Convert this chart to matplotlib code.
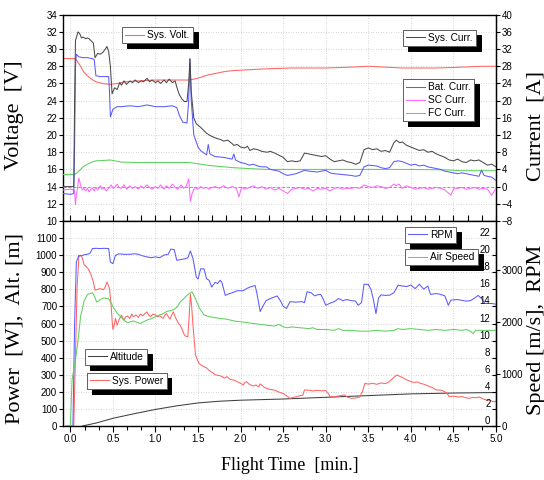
import numpy as np
import matplotlib
matplotlib.use("Agg")
import matplotlib.pyplot as plt
from matplotlib import font_manager
from matplotlib.ticker import MultipleLocator, FixedLocator

# ---------------- data ----------------
sys_volt_pts = [(-0.09, 28.9), (0.05, 28.9), (0.08, 28.6), (0.12, 28.0), (0.16, 27.3), (0.2, 26.9),
                (0.25, 26.5), (0.3, 26.2), (0.4, 25.95), (0.47, 25.9), (0.55, 26.0), (0.65, 26.2),
                (0.8, 26.3), (1.0, 26.4), (1.2, 26.4), (1.38, 26.4), (1.45, 26.5), (1.53, 26.7),
                (1.62, 27.0), (1.72, 27.2), (1.82, 27.4), (1.92, 27.5), (2.1, 27.6), (2.3, 27.7),
                (2.6, 27.8), (3.0, 27.8), (3.3, 27.9), (3.5, 28.0), (3.7, 27.9), (3.9, 27.8),
                (4.3, 27.8), (4.6, 27.9), (4.85, 28.0), (5.0, 28.0)]

sys_curr_pts = [(-0.09, 0.0), (0.04, 0.0), (0.05, 20), (0.06, 34), (0.09, 36), (0.11, 35.6), (0.13, 34.6),
                (0.15, 34.8), (0.18, 34.4), (0.2, 34.6), (0.22, 34.4), (0.25, 33.8), (0.27, 33.4),
                (0.29, 30.0), (0.32, 31.0), (0.35, 30.8), (0.38, 31.2), (0.41, 32.0), (0.43, 32.6),
                (0.45, 31.4), (0.47, 28.0), (0.49, 21.6), (0.52, 23.0), (0.55, 22.6), (0.58, 24.2),
                (0.6, 23.6), (0.63, 24.6), (0.66, 23.8), (0.7, 24.6), (0.73, 24.2), (0.76, 24.8),
                (0.8, 24.2), (0.83, 24.6), (0.86, 24.4), (0.9, 25.2), (0.93, 24.4), (0.96, 24.8),
                (1.0, 24.2), (1.03, 24.6), (1.06, 24.0), (1.1, 24.8), (1.13, 24.2), (1.16, 25.0),
                (1.2, 24.2), (1.23, 24.6), (1.25, 23.2), (1.28, 21.4), (1.31, 20.4), (1.34, 19.8),
                (1.37, 19.8), (1.39, 24.0), (1.405, 29.8), (1.42, 22.0), (1.45, 16.0), (1.48, 14.6),
                (1.53, 13.8), (1.57, 13.0), (1.6, 12.4), (1.65, 11.8), (1.72, 11.2), (1.76, 11.0),
                (1.8, 10.6), (1.85, 10.8), (1.9, 10.0), (1.92, 9.6), (1.96, 9.8), (2.0, 9.2),
                (2.05, 9.0), (2.08, 9.4), (2.11, 8.4), (2.15, 8.8), (2.2, 8.6), (2.25, 8.2),
                (2.31, 8.0), (2.35, 8.2), (2.4, 7.8), (2.44, 7.4), (2.5, 6.8), (2.55, 5.8),
                (2.6, 6.0), (2.65, 5.8), (2.7, 6.0), (2.75, 7.8), (2.8, 7.6), (2.85, 7.4),
                (2.9, 7.2), (2.95, 7.0), (3.0, 7.2), (3.05, 6.4), (3.1, 5.8), (3.15, 6.0),
                (3.2, 6.2), (3.25, 5.8), (3.3, 5.6), (3.35, 5.2), (3.4, 5.6), (3.45, 8.6),
                (3.5, 9.0), (3.55, 8.6), (3.6, 8.8), (3.65, 8.2), (3.7, 8.4), (3.75, 8.0),
                (3.8, 10.2), (3.83, 10.8), (3.87, 10.2), (3.9, 10.4), (3.95, 9.6), (4.0, 9.2),
                (4.05, 8.8), (4.1, 8.4), (4.15, 8.6), (4.2, 8.0), (4.25, 8.2), (4.3, 7.6),
                (4.35, 7.2), (4.4, 6.8), (4.45, 6.2), (4.5, 6.0), (4.55, 6.4), (4.6, 5.8),
                (4.65, 5.6), (4.7, 6.2), (4.75, 6.0), (4.8, 6.2), (4.85, 5.6), (4.9, 5.0),
                (4.95, 5.2), (5.0, 4.6)]

bat_curr_pts = [(-0.09, -1.6), (0.0, -1.8), (0.04, -1.6), (0.05, 10), (0.06, 28), (0.07, 30.8),
                (0.1, 30.2), (0.15, 30.0), (0.2, 30.0), (0.25, 29.8), (0.28, 29.6), (0.3, 25.8),
                (0.35, 25.6), (0.4, 25.6), (0.45, 25.6), (0.46, 22.0), (0.47, 16.2), (0.5, 18.0),
                (0.55, 18.6), (0.6, 18.6), (0.7, 18.8), (0.8, 18.6), (0.9, 19.0), (0.95, 18.8),
                (1.0, 18.6), (1.1, 18.6), (1.2, 18.8), (1.25, 18.4), (1.28, 16.6), (1.32, 15.0),
                (1.37, 14.8), (1.39, 20.0), (1.405, 29.6), (1.42, 20.0), (1.45, 12.0), (1.5, 9.2),
                (1.53, 8.4), (1.57, 7.8), (1.6, 7.4), (1.62, 9.8), (1.64, 7.6), (1.7, 7.0),
                (1.8, 6.8), (1.85, 6.6), (1.9, 6.4), (1.92, 7.6), (1.94, 6.2), (2.0, 5.6),
                (2.05, 5.4), (2.1, 5.0), (2.15, 5.2), (2.2, 4.8), (2.25, 4.6), (2.3, 4.6),
                (2.35, 4.0), (2.4, 3.8), (2.45, 3.6), (2.5, 3.0), (2.55, 2.6), (2.6, 2.8),
                (2.65, 3.0), (2.7, 3.4), (2.75, 3.8), (2.8, 3.6), (2.9, 3.4), (3.0, 3.8),
                (3.05, 3.2), (3.1, 3.0), (3.2, 2.8), (3.3, 2.6), (3.35, 2.4), (3.4, 2.6),
                (3.45, 4.6), (3.5, 5.0), (3.6, 4.8), (3.65, 4.4), (3.7, 4.2), (3.75, 4.4),
                (3.8, 5.8), (3.85, 6.0), (3.9, 5.8), (3.95, 5.4), (4.0, 5.0), (4.05, 5.2),
                (4.1, 4.8), (4.15, 5.0), (4.2, 4.6), (4.3, 4.2), (4.35, 4.0), (4.4, 3.6),
                (4.45, 3.4), (4.5, 3.2), (4.55, 3.0), (4.6, 3.2), (4.65, 3.0), (4.7, 2.8),
                (4.75, 2.6), (4.8, 2.4), (4.83, 3.8), (4.86, 2.6), (4.9, 2.4), (4.95, 2.2),
                (5.0, 1.4)]

sc_curr_pts = [(-0.09, -0.8), (0.0, -0.6), (0.04, -0.8), (0.05, -1.2), (0.06, -4.2), (0.07, -2.0),
               (0.08, -0.8), (0.1, 2.0), (0.12, 0.4), (0.14, -0.8), (0.16, -0.4), (0.18, -1.0),
               (0.2, -0.4), (0.22, -1.2), (0.24, -0.6), (0.26, -0.4), (0.28, -1.0), (0.3, -0.2),
               (0.32, -0.8), (0.35, 0.2), (0.37, -0.6), (0.4, -0.4), (0.42, -1.0), (0.45, -0.4),
               (0.48, 0.4), (0.5, -0.4), (0.52, -0.2), (0.55, 0.6), (0.57, -0.2), (0.6, -0.4),
               (0.63, 0.4), (0.66, -0.6), (0.7, 0.2), (0.73, -0.4), (0.76, 0.0), (0.8, -0.6),
               (0.83, 0.2), (0.86, -0.4), (0.9, 0.4), (0.93, -0.2), (0.96, -0.6), (1.0, 0.0),
               (1.03, -0.4), (1.06, 0.4), (1.1, -0.6), (1.13, 0.2), (1.16, -0.4), (1.2, 0.6),
               (1.23, -0.2), (1.26, -0.6), (1.3, 0.4), (1.33, -0.4), (1.36, 0.0), (1.39, 1.8),
               (1.41, -3.4), (1.43, -1.6), (1.46, -0.2), (1.5, -0.6), (1.53, 0.0), (1.56, -0.4),
               (1.6, -0.2), (1.63, -0.6), (1.66, -0.2), (1.7, 0.0), (1.75, -0.4), (1.8, 0.2),
               (1.85, -0.4), (1.9, 0.0), (1.95, -0.4), (1.98, -2.4), (2.01, -0.2), (2.05, -0.6),
               (2.1, -0.2), (2.15, 0.2), (2.2, -0.4), (2.25, 0.0), (2.3, -0.6), (2.35, -0.2),
               (2.4, -0.8), (2.45, -0.4), (2.5, -1.0), (2.55, -1.6), (2.6, -0.6), (2.65, -0.4),
               (2.7, -0.2), (2.75, -0.6), (2.8, -0.4), (2.85, -1.0), (2.9, -0.4), (2.95, -0.6),
               (3.0, -0.4), (3.05, -1.0), (3.1, -0.4), (3.15, -0.2), (3.2, -0.6), (3.25, -0.4),
               (3.3, -0.4), (3.35, -0.2), (3.4, -0.4), (3.45, 0.4), (3.5, 0.0), (3.55, -0.2),
               (3.6, 0.2), (3.65, 0.0), (3.7, -0.4), (3.75, -0.2), (3.8, 0.6), (3.83, 0.2),
               (3.86, 0.6), (3.9, -0.4), (3.95, 0.2), (4.0, -0.2), (4.05, -0.6), (4.1, -0.4),
               (4.15, -0.2), (4.2, -0.6), (4.25, -0.4), (4.3, -0.2), (4.35, -0.4), (4.4, -0.8),
               (4.47, -2.0), (4.5, -0.6), (4.55, -0.4), (4.6, -0.2), (4.65, -0.6), (4.7, -0.4),
               (4.75, -0.2), (4.8, -0.6), (4.85, -0.4), (4.9, -0.6), (4.95, -2.0), (5.0, -0.4)]

fc_curr_pts = [(-0.09, 2.8), (0.05, 2.8), (0.1, 3.6), (0.15, 4.6), (0.2, 5.2), (0.25, 5.7), (0.3, 6.0),
               (0.4, 6.1), (0.47, 6.2), (0.52, 6.0), (0.6, 5.7), (0.8, 5.6), (1.0, 5.6), (1.2, 5.6),
               (1.4, 5.6), (1.5, 5.3), (1.6, 5.0), (1.75, 4.7), (1.92, 4.4), (2.1, 4.2), (2.3, 4.0),
               (2.6, 4.0), (3.0, 4.0), (3.5, 4.0), (4.0, 4.0), (4.4, 3.9), (4.6, 3.7), (5.0, 3.7)]

sys_power_pts = [(-0.05, 0), (0.04, 0), (0.06, 400), (0.08, 820), (0.1, 990), (0.12, 1000), (0.14, 985),
                 (0.16, 945), (0.19, 930), (0.21, 920), (0.24, 890), (0.27, 843), (0.29, 795),
                 (0.32, 800), (0.35, 804), (0.39, 798), (0.41, 815), (0.43, 843), (0.45, 820),
                 (0.46, 804), (0.48, 700), (0.49, 620), (0.5, 565), (0.52, 600), (0.53, 630),
                 (0.55, 590), (0.57, 620), (0.6, 649), (0.63, 620), (0.65, 640), (0.67, 643),
                 (0.7, 630), (0.72, 655), (0.74, 640), (0.77, 650), (0.8, 635), (0.82, 655),
                 (0.85, 645), (0.88, 660), (0.9, 668), (0.92, 650), (0.94, 640), (0.97, 655),
                 (1.0, 650), (1.02, 639), (1.05, 645), (1.09, 630), (1.11, 650), (1.13, 658),
                 (1.15, 640), (1.17, 625), (1.19, 650), (1.21, 668), (1.23, 640), (1.25, 620),
                 (1.27, 600), (1.29, 590), (1.31, 570), (1.34, 532), (1.36, 525), (1.38, 522),
                 (1.395, 640), (1.41, 771), (1.425, 700), (1.44, 590), (1.47, 415), (1.49, 390),
                 (1.51, 366), (1.54, 355), (1.57, 347), (1.6, 340), (1.62, 330), (1.65, 318),
                 (1.68, 310), (1.7, 300), (1.72, 298), (1.75, 295), (1.78, 290), (1.81, 280),
                 (1.84, 289), (1.87, 275), (1.9, 270), (1.92, 269), (1.95, 262), (1.97, 258),
                 (2.0, 250), (2.03, 240), (2.05, 255), (2.07, 259), (2.1, 245), (2.12, 240),
                 (2.15, 234), (2.18, 240), (2.21, 230), (2.23, 246), (2.26, 235), (2.28, 225),
                 (2.31, 220), (2.34, 215), (2.37, 212), (2.4, 210), (2.44, 201), (2.47, 195),
                 (2.5, 190), (2.53, 180), (2.56, 170), (2.58, 162), (2.62, 168), (2.66, 172),
                 (2.7, 178), (2.73, 180), (2.75, 211), (2.8, 210), (2.85, 205), (2.9, 208),
                 (2.95, 206), (3.0, 208), (3.03, 190), (3.05, 172), (3.1, 170), (3.13, 174),
                 (3.18, 178), (3.22, 182), (3.25, 170), (3.3, 162), (3.35, 164), (3.4, 170),
                 (3.43, 200), (3.46, 250), (3.5, 245), (3.55, 250), (3.6, 244), (3.65, 252),
                 (3.7, 248), (3.74, 258), (3.78, 275), (3.81, 290), (3.84, 299), (3.87, 290),
                 (3.9, 285), (3.93, 275), (3.96, 268), (4.0, 260), (4.04, 255), (4.08, 258),
                 (4.11, 250), (4.15, 245), (4.2, 235), (4.25, 225), (4.3, 211), (4.35, 210),
                 (4.38, 205), (4.42, 195), (4.45, 172), (4.5, 175), (4.55, 170), (4.6, 172),
                 (4.65, 165), (4.69, 162), (4.73, 168), (4.77, 165), (4.8, 170), (4.84, 160),
                 (4.89, 152), (4.93, 150), (4.97, 142), (5.0, 145)]

altitude_pts = [(0.14, 0), (0.3, 17), (0.5, 45), (0.75, 72), (1.0, 97), (1.25, 118), (1.5, 135),
                (1.75, 145), (2.0, 151), (2.5, 158), (3.0, 168), (3.5, 178), (4.0, 188),
                (4.5, 193), (5.0, 196)]

rpm_pts = [(-0.05, 0), (0.03, 0), (0.05, 1970), (0.07, 3150), (0.1, 3280), (0.13, 3270), (0.16, 3290),
           (0.2, 3300), (0.23, 3320), (0.26, 3410), (0.3, 3415), (0.35, 3410), (0.4, 3415),
           (0.45, 3410), (0.47, 3150), (0.5, 3120), (0.53, 3280), (0.57, 3310), (0.62, 3300),
           (0.7, 3300), (0.75, 3310), (0.8, 3300), (0.85, 3270), (0.9, 3250), (0.95, 3235),
           (1.0, 3250), (1.05, 3235), (1.1, 3285), (1.15, 3300), (1.18, 3400), (1.22, 3390),
           (1.25, 3185), (1.3, 3200), (1.35, 3215), (1.38, 3235), (1.41, 3365), (1.44, 3220),
           (1.48, 2860), (1.5, 2825), (1.53, 3020), (1.57, 3020), (1.6, 2830), (1.63, 2800),
           (1.66, 2670), (1.7, 2760), (1.73, 2740), (1.76, 2800), (1.78, 2760), (1.82, 2510),
           (1.86, 2540), (1.9, 2560), (1.96, 2600), (2.03, 2600), (2.08, 2650), (2.11, 2670),
           (2.17, 2700), (2.19, 2560), (2.23, 2200), (2.26, 2300), (2.3, 2410), (2.35, 2450),
           (2.43, 2500), (2.47, 2400), (2.5, 2300), (2.54, 2260), (2.58, 2390), (2.65, 2380),
           (2.72, 2390), (2.75, 2370), (2.78, 2580), (2.83, 2560), (2.87, 2500), (2.9, 2520),
           (2.94, 2530), (2.97, 2440), (3.0, 2320), (3.05, 2360), (3.1, 2390), (3.15, 2450),
           (3.2, 2410), (3.25, 2430), (3.3, 2410), (3.35, 2400), (3.38, 2320), (3.42, 2370),
           (3.45, 2725), (3.5, 2720), (3.53, 2630), (3.56, 2430), (3.59, 2160), (3.62, 2460),
           (3.65, 2520), (3.7, 2510), (3.75, 2515), (3.8, 2560), (3.85, 2705), (3.9, 2690),
           (3.95, 2680), (4.0, 2710), (4.05, 2640), (4.1, 2725), (4.15, 2630), (4.2, 2690),
           (4.23, 2530), (4.3, 2545), (4.35, 2530), (4.4, 2500), (4.44, 2320), (4.47, 2420),
           (4.55, 2430), (4.6, 2415), (4.65, 2400), (4.7, 2410), (4.75, 2460), (4.79, 2510),
           (4.83, 2450), (4.87, 2355), (4.95, 2355), (5.0, 2340)]

air_speed_pts = [(-0.05, 0), (0.0, 0), (0.02, 5.4), (0.06, 7.8), (0.09, 10.0), (0.12, 12.8), (0.16, 14.6),
                 (0.2, 15.4), (0.26, 15.6), (0.29, 15.0), (0.31, 14.5), (0.35, 14.8), (0.39, 15.0),
                 (0.45, 14.9), (0.48, 14.4), (0.51, 13.8), (0.55, 13.2), (0.59, 12.8), (0.63, 12.4),
                 (0.67, 12.1), (0.74, 12.3), (0.82, 12.0), (0.9, 12.4), (0.96, 12.6), (1.02, 12.9),
                 (1.08, 13.1), (1.13, 13.4), (1.21, 13.6), (1.25, 13.9), (1.29, 14.5), (1.33, 14.9),
                 (1.37, 15.3), (1.43, 15.7), (1.47, 14.9), (1.51, 13.9), (1.57, 13.0), (1.63, 12.8),
                 (1.69, 12.7), (1.75, 12.6), (1.84, 12.5), (1.92, 12.3), (2.0, 12.2), (2.08, 12.1),
                 (2.15, 12.0), (2.23, 11.9), (2.31, 11.8), (2.4, 11.7), (2.45, 11.9), (2.5, 11.6),
                 (2.55, 11.5), (2.6, 11.6), (2.7, 11.5), (2.8, 11.4), (2.85, 11.5), (2.9, 11.3),
                 (3.0, 11.3), (3.1, 11.2), (3.15, 11.4), (3.2, 11.2), (3.3, 11.2), (3.4, 11.1),
                 (3.5, 11.1), (3.6, 11.2), (3.7, 11.1), (3.8, 11.2), (3.85, 11.4), (3.9, 11.3),
                 (4.0, 11.4), (4.1, 11.3), (4.2, 11.2), (4.3, 11.3), (4.4, 11.2), (4.5, 11.3),
                 (4.6, 11.2), (4.65, 11.3), (4.7, 11.1), (4.73, 10.8), (4.76, 11.2), (4.85, 11.2),
                 (5.0, 11.2)]

volt_ticks = list(range(10, 36, 2))
curr_ticks = list(range(-8, 44, 4))
power_ticks = list(range(0, 1200, 100))
speed_ticks = list(range(0, 24, 2))
rpm_ticks = [0, 1000, 2000, 3000]
time_ticks = [0.0, 0.5, 1.0, 1.5, 2.0, 2.5, 3.0, 3.5, 4.0, 4.5, 5.0]

# ---------------- styling ----------------
names = {f.name for f in font_manager.fontManager.ttflist}
TICKFONT = 'Liberation Sans Narrow' if 'Liberation Sans Narrow' in names else 'Liberation Sans'
SERIF = 'Liberation Serif'
plt.rcParams['font.family'] = [TICKFONT, 'DejaVu Sans']

C_RED = '#ff6464'
C_BLK = '#4a4a4a'
C_BLUE = '#5a5aff'
C_PINK = '#ff66ff'
C_GREEN = '#5ed05e'
C_ALT = '#404040'
LW = 0.75
TFS = 7

def xy(pts):
    a = np.array(pts, dtype=float)
    return a[:, 0], a[:, 1]

fig = plt.figure(figsize=(5.44, 4.80), dpi=100)
L, W = 62.7 / 544, (496 - 62.7) / 544
ax1 = fig.add_axes([L, 1 - 221 / 480, W, (221 - 14.7) / 480])
ax2 = fig.add_axes([L, 1 - 426 / 480, W, (426 - 221) / 480])
ax1r = ax1.twinx()
ax2r = ax2.twinx()
ax2s = ax2.twinx()

XL = (-0.09, 5.0)
for a in (ax1, ax2):
    a.set_xlim(*XL)
    a.xaxis.set_major_locator(FixedLocator(time_ticks))
    a.xaxis.set_minor_locator(MultipleLocator(1 / 6))
    a.grid(True, which='major', color='#c8c8c8', linestyle=(0, (1, 2)), linewidth=0.6)
    a.set_axisbelow(True)
    for s in a.spines.values():
        s.set_linewidth(1.0)

# ---------------- top panel ----------------
ax1.set_ylim(10, 34)
ax1.set_yticks(volt_ticks)
ax1r.set_ylim(-8, 40)
ax1r.set_yticks(curr_ticks)
ax1r.axhline(0, color='#9a9a9a', linestyle=(0, (3, 2)), linewidth=0.7, zorder=0)

l_volt, = ax1.plot(*xy(sys_volt_pts), color=C_RED, lw=LW, label='Sys. Volt.')
l_fc, = ax1r.plot(*xy(fc_curr_pts), color=C_GREEN, lw=LW, label='FC Curr.')
l_sc, = ax1r.plot(*xy(sc_curr_pts), color=C_PINK, lw=LW, label='SC Curr.')
l_bat, = ax1r.plot(*xy(bat_curr_pts), color=C_BLUE, lw=LW, label='Bat. Curr.')
l_sys, = ax1r.plot(*xy(sys_curr_pts), color=C_BLK, lw=LW, label='Sys. Curr.')

ax1.tick_params(axis='x', which='both', direction='in', length=4, width=0.8,
                labelbottom=False, top=False, bottom=True)
ax1.tick_params(axis='y', direction='out', length=3, width=0.8, pad=1, labelsize=TFS)
ax1r.tick_params(axis='y', direction='out', length=3, width=0.8, pad=1, labelsize=TFS)

# ---------------- bottom panel ----------------
ax2.set_ylim(0, 1200)
ax2.set_yticks(power_ticks)
ax2r.set_ylim(0, 3940)
ax2r.set_yticks(rpm_ticks)
ax2s.set_ylim(0, 24)
ax2s.set_yticks(speed_ticks)

l_alt, = ax2.plot(*xy(altitude_pts), color=C_ALT, lw=LW, label='Altitude')
l_pow, = ax2.plot(*xy(sys_power_pts), color=C_RED, lw=LW, label='Sys. Power')
l_rpm, = ax2r.plot(*xy(rpm_pts), color=C_BLUE, lw=LW, label='RPM')
l_air, = ax2s.plot(*xy(air_speed_pts), color=C_GREEN, lw=LW, label='Air Speed')

ax2.tick_params(axis='x', which='major', direction='out', length=4, width=0.8, labelsize=TFS, pad=2)
ax2.tick_params(axis='x', which='minor', direction='out', length=3, width=0.8)
ax2.tick_params(axis='y', direction='out', length=3, width=0.8, pad=1, labelsize=TFS)
ax2r.tick_params(axis='y', direction='out', length=3, width=0.8, pad=1, labelsize=TFS)

# speed axis: spine on the right edge, ticks and labels pointing inside
for k in ('top', 'bottom', 'right'):
    ax2s.spines[k].set_visible(False)
ax2s.spines['left'].set_visible(True)
ax2s.spines['left'].set_position(('axes', 1.0))
ax2s.yaxis.set_ticks_position('left')
ax2s.tick_params(axis='y', direction='out', length=3, width=0.8, pad=1, labelsize=TFS)
for lab in ax2s.get_yticklabels():
    lab.set_va('bottom')

for a in (ax1r, ax2r):
    for k in ('top', 'bottom', 'left'):
        a.spines[k].set_visible(False)

# ---------------- legends ----------------
def box_legend(ax, handles, x, ytop, spacing=0.3):
    leg = ax.legend(handles=handles, loc='upper left', bbox_to_anchor=(x, ytop),
                    bbox_transform=ax.transAxes, frameon=True, fancybox=False,
                    shadow={'color': 'black', 'alpha': 1, 'ox': 3.5, 'oy': -3.5},
                    framealpha=1, edgecolor='#606060', borderaxespad=0, borderpad=0.3,
                    handlelength=1.9, handletextpad=0.3, labelspacing=spacing,
                    prop={'family': TICKFONT, 'size': 7.3})
    leg.get_frame().set_linewidth(0.7)
    ax.add_artist(leg)
    return leg

box_legend(ax1r, [l_volt], 0.137, 0.940)
box_legend(ax1r, [l_sys], 0.785, 0.926)
box_legend(ax1r, [l_bat, l_sc, l_fc], 0.785, 0.688)
box_legend(ax2s, [l_rpm], 0.790, 0.971)
box_legend(ax2s, [l_air], 0.790, 0.863)
box_legend(ax2s, [l_alt], 0.051, 0.376)
box_legend(ax2s, [l_pow], 0.056, 0.259)

# ---------------- axis titles ----------------
fig.text(15 / 544, 1 - 115 / 480, 'Voltage  [V]', rotation=90, ha='center', va='center',
         family=SERIF, fontsize=16)
fig.text(536 / 544, 1 - 126 / 480, 'Current  [A]', rotation=90, ha='center', va='center',
         family=SERIF, fontsize=16)
fig.text(15 / 544, 1 - 328 / 480, 'Power  [W],  Alt. [m]', rotation=90, ha='center', va='center',
         family=SERIF, fontsize=16)
fig.text(536 / 544, 1 - 330 / 480, 'Speed [m/s],  RPM', rotation=90, ha='center', va='center',
         family=SERIF, fontsize=16)
fig.text(290 / 544, 1 - 466 / 480, 'Flight Time  [min.]', ha='center', va='center',
         family=SERIF, fontsize=13)

fig.savefig('out.png', dpi=100)
